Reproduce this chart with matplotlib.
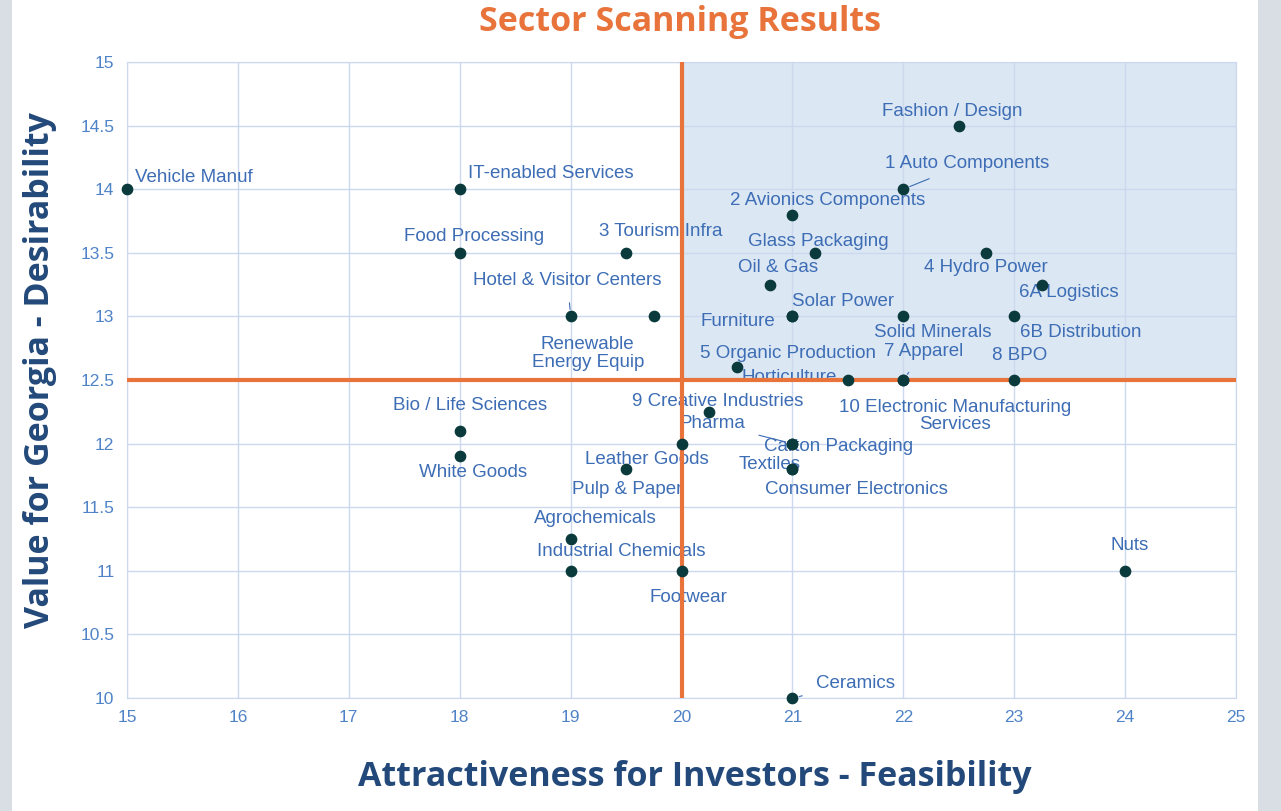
import matplotlib
matplotlib.use("Agg")
import matplotlib.pyplot as plt
import matplotlib.patches as ptch

# Sector data: attractiveness (x), desirability (y)
sectors = ["Vehicle Manuf", "IT-enabled Services", "Food Processing", "3 Tourism Infra",
           "Hotel & Visitor Centers", "Renewable\nEnergy Equip", "Fashion / Design",
           "1 Auto Components", "2 Avionics Components", "Glass Packaging", "Oil & Gas",
           "4 Hydro Power", "6A Logistics", "Furniture", "Solar Power", "Solid Minerals",
           "6B Distribution", "5 Organic Production", "Horticulture", "7 Apparel", "8 BPO",
           "10 Electronic Manufacturing\nServices", "9 Creative Industries", "Pharma",
           "Carton Packaging", "Textiles", "Consumer Electronics", "Leather Goods",
           "Pulp & Paper", "Bio / Life Sciences", "White Goods", "Agrochemicals",
           "Industrial Chemicals", "Footwear", "Nuts", "Ceramics"]
attract = [15, 18, 18, 19.5, 19, 19.75, 22.5, 22, 21, 21.2, 20.8, 22.75, 23.25, 21, 21, 22,
           23, 20.5, 21.5, 22, 23, 22, 20.25, 21, 21, 21, 21, 20, 19.5, 18, 18, 19, 19, 20, 24, 21]
desire = [14, 14, 13.5, 13.5, 13, 13, 14.5, 14, 13.8, 13.5, 13.25, 13.5, 13.25, 13, 13, 13,
          13, 12.6, 12.5, 12.5, 12.5, 12.5, 12.25, 12, 12, 11.8, 11.8, 12, 11.8, 12.1, 11.9,
          11.25, 11, 11, 11, 10]

# label offsets in pixels (dx, dy) from the point, and whether a leader line is drawn
offsets = [(67, 12), (91, 16), (14, 16), (35, 21), (-3, 36), (-66, -37), (-6, 14),
           (64, 26), (35, 14), (4, 11), (8, 17), (-1, -15), (27, -8), (-55, -5), (51, 15),
           (29, -16), (67, -16), (51, 14), (-59, 2), (20, 28), (5, 24), (52, -36), (8, 10),
           (-80, 20), (46, -3), (-23, 5), (64, -20), (-35, -16), (1, -20), (10, 25),
           (13, -16), (25, 20), (51, 19), (7, -27), (5, 25), (63, 14)]
leaders = {"Hotel & Visitor Centers", "1 Auto Components", "7 Apparel", "Pharma",
           "Ceramics", "Bio / Life Sciences"}

orange = "#E8743B"
navy = "#23497A"
lblue = "#3D6DB5"
gridc = "#CBD8EE"

fig = plt.figure(figsize=(12.81, 8.11), dpi=100, facecolor="#D9DEE4")
fig.patches.append(ptch.Rectangle((12/1281, 0), 1246/1281, 1, transform=fig.transFigure,
                                  facecolor="white", edgecolor="none", zorder=-10))
ax = fig.add_axes([127/1281, 1-698/811, 1109/1281, 636/811])
ax.set_facecolor("white")
ax.set_xlim(15, 25)
ax.set_ylim(10, 15)
ax.set_xticks(range(15, 26))
ax.set_yticks([10, 10.5, 11, 11.5, 12, 12.5, 13, 13.5, 14, 14.5, 15])
ax.set_yticklabels(["10", "10.5", "11", "11.5", "12", "12.5", "13", "13.5", "14", "14.5", "15"])
ax.grid(color=gridc, linewidth=1)
ax.set_axisbelow(True)
for s in ax.spines.values():
    s.set_color(gridc)
ax.tick_params(length=0, labelsize=12.5, labelcolor="#4F83C8", pad=9)
for t in ax.get_xticklabels() + ax.get_yticklabels():
    t.set_family("Liberation Sans")

# shaded quadrant and divider lines
ax.axvspan(20, 25, ymin=0.5, ymax=1, facecolor="#DCE7F4", zorder=0.5)
ax.axvline(20, color=orange, linewidth=3, zorder=3)
ax.axhline(12.5, color=orange, linewidth=3, zorder=3)

ax.scatter(attract, desire, s=55, color="#0B3A3C", zorder=4, clip_on=False)

for name, x, y, off in zip(sectors, attract, desire, offsets):
    arrow = None
    if name in leaders:
        arrow = dict(arrowstyle="-", color=lblue, lw=0.8, shrinkA=8, shrinkB=5)
    ax.annotate(name, (x, y), xytext=off, textcoords="offset pixels", ha="center",
                va="center", fontsize=13.5, color=lblue, family="Liberation Sans",
                arrowprops=arrow, zorder=2.5, annotation_clip=False, linespacing=1.05)

fig.text(680/1281, 1-22/811, "Sector Scanning Results", color=orange, fontsize=24.5,
         fontweight="bold", family="Open Sans", ha="center", va="center")
fig.text(695/1281, 1-777/811, "Attractiveness for Investors - Feasibility", color=navy,
         fontsize=24.5, fontweight="bold", family="Open Sans", ha="center", va="center")
fig.text(40/1281, 1-370/811, "Value for Georgia - Desirability", color=navy,
         fontsize=24.5, fontweight="bold", family="Open Sans", ha="center", va="center",
         rotation=90)

fig.savefig("out.png", dpi=100, facecolor=fig.get_facecolor())
